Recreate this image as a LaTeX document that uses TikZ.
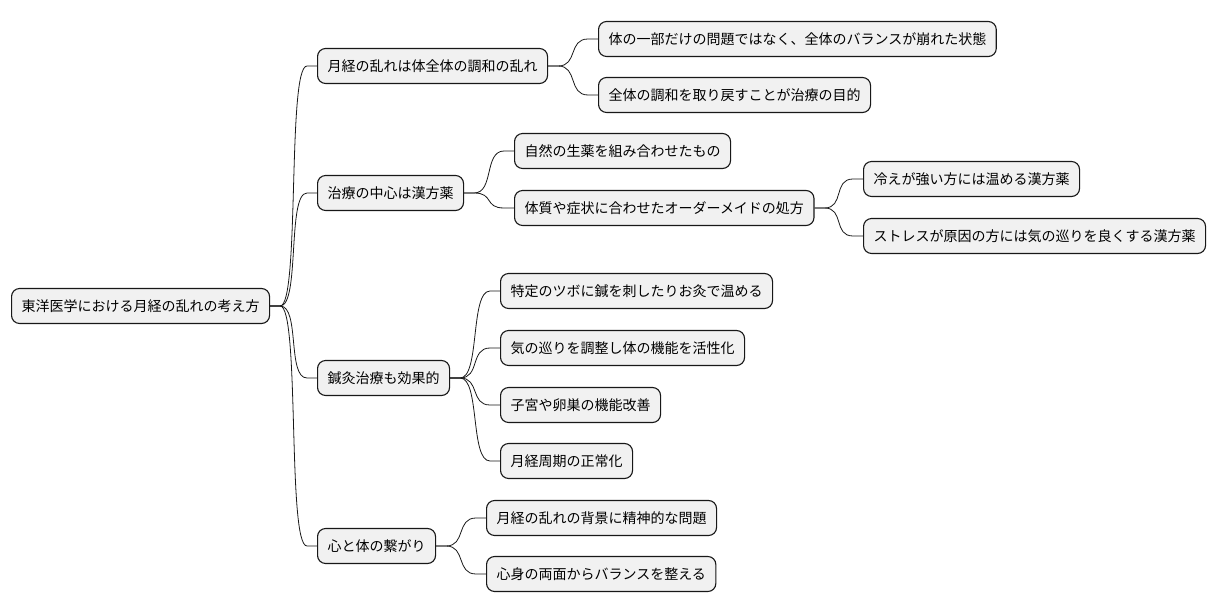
\documentclass[tikz,border=0pt]{standalone}
\usepackage{fontspec}
\setmainfont{Noto Sans CJK JP}
\definecolor{boxfill}{HTML}{F1F1F1}
\definecolor{boxline}{HTML}{181818}

\begin{document}
\begin{tikzpicture}[x=1pt, y=-1pt,
    topic/.style={draw=boxline, line width=1.1pt, fill=boxfill, rounded corners=8pt,
        anchor=west, minimum height=35pt, inner xsep=10pt, font=\fontsize{14}{16}\selectfont},
    branch/.style={draw=boxline, line width=0.8pt,
        to path={-- ++(10,0) .. controls +(20,0) and +(-20,0) .. ([xshift=-10pt]\tikztotarget) -- (\tikztotarget)}}]
    \useasboundingbox (0,0) rectangle (1216,612);

    % Root
    \node[topic] (root) at (11,306) {東洋医学における月経の乱れの考え方};

    % First level
    \node[topic] (harmony) at (317,66) {月経の乱れは体全体の調和の乱れ};
    \node[topic] (kampo) at (317,193) {治療の中心は漢方薬};
    \node[topic] (acu) at (317,378) {鍼灸治療も効果的};
    \node[topic] (mind) at (317,546) {心と体の繋がり};

    % Harmony
    \node[topic] (whole) at (598,39) {体の一部だけの問題ではなく、全体のバランスが崩れた状態};
    \node[topic] (goal) at (598,95) {全体の調和を取り戻すことが治療の目的};

    % Kampo
    \node[topic] (herbs) at (514,151) {自然の生薬を組み合わせたもの};
    \node[topic] (custom) at (514,208) {体質や症状に合わせたオーダーメイドの処方};
    \node[topic] (cold) at (863,179) {冷えが強い方には温める漢方薬};
    \node[topic] (stress) at (863,236) {ストレスが原因の方には気の巡りを良くする漢方薬};

    % Acupuncture
    \node[topic] (points) at (500,291) {特定のツボに鍼を刺したりお灸で温める};
    \node[topic] (flow) at (500,348) {気の巡りを調整し体の機能を活性化};
    \node[topic] (uterus) at (500,405) {子宮や卵巣の機能改善};
    \node[topic] (cycle) at (500,461) {月経周期の正常化};

    % Mind and body
    \node[topic] (mental) at (486,518) {月経の乱れの背景に精神的な問題};
    \node[topic] (balance) at (486,574) {心身の両面からバランスを整える};

    % Branches
    \foreach \kid in {harmony, kampo, acu, mind}
        \draw[branch] (root.east) to (\kid.west);
    \foreach \kid in {whole, goal}
        \draw[branch] (harmony.east) to (\kid.west);
    \foreach \kid in {herbs, custom}
        \draw[branch] (kampo.east) to (\kid.west);
    \foreach \kid in {cold, stress}
        \draw[branch] (custom.east) to (\kid.west);
    \foreach \kid in {points, flow, uterus, cycle}
        \draw[branch] (acu.east) to (\kid.west);
    \foreach \kid in {mental, balance}
        \draw[branch] (mind.east) to (\kid.west);
\end{tikzpicture}
\end{document}
